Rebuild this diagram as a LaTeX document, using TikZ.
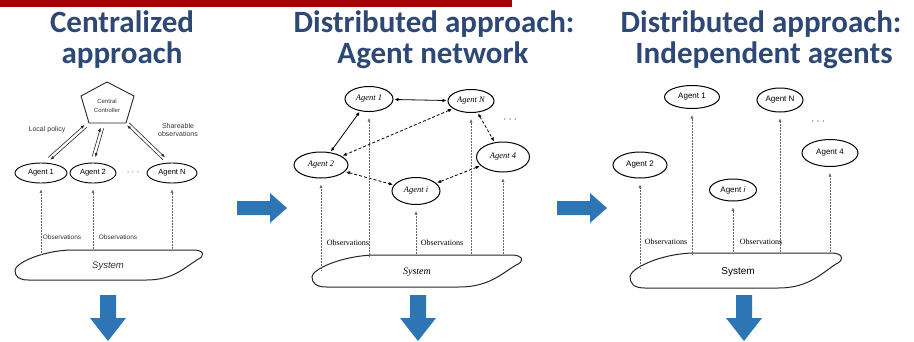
\documentclass[tikz,border=0pt]{standalone}
\usepackage{fontspec}
\setmainfont{Liberation Serif}
\setsansfont{Liberation Sans}
\newfontfamily\titlefont{Carlito}
\usetikzlibrary{shapes.geometric,arrows.meta,calc}

\definecolor{titleblue}{RGB}{46,72,118}
\definecolor{barred}{RGB}{168,0,0}
\definecolor{arrowblue}{RGB}{46,117,182}

% two parallel arrows between #1 and #2, one in each direction
\newcommand\duallink[2]{%
  \draw[dual,-{Latex[length=4pt,width=3pt]}] ($(#1)!1.6pt!90:(#2)$) -- ($(#2)!1.6pt!-90:(#1)$);
  \draw[dual,{Latex[length=4pt,width=3pt]}-] ($(#1)!1.6pt!-90:(#2)$) -- ($(#2)!1.6pt!90:(#1)$);}

% skewed rounded outline used for the "System" blocks
\newcommand\systemoutline[4]{%
  \begin{scope}[shift={(#1,#2)},xscale=#3,yscale=#4]
    \draw[sysline] (0,0.68) .. controls (0,0.45) and (0.14,0.02) .. (0.3,0)
      -- (0.95,0) .. controls (1.01,0) and (1.01,0.22) .. (0.97,0.32)
      .. controls (0.9,0.6) and (0.84,1) .. (0.7,1)
      -- (0.07,1) .. controls (0.02,1) and (0,0.88) .. (0,0.68) -- cycle;
  \end{scope}}

\begin{document}
\begin{tikzpicture}[x=1pt,y=-1pt,
  titletext/.style={text=titleblue,font=\titlefont\bfseries\fontsize{31}{32}\selectfont,anchor=base,inner sep=0},
  agentA/.style={draw,ellipse,line width=0.9pt,inner sep=0,font=\sffamily\fontsize{7.5}{8}\selectfont},
  agentB/.style={draw,ellipse,line width=1pt,inner sep=0,font=\itshape\fontsize{8.5}{9}\selectfont},
  agentC/.style={draw,ellipse,line width=1pt,inner sep=0,font=\sffamily\fontsize{8}{9}\selectfont},
  small/.style={inner sep=0,font=\sffamily\fontsize{6.5}{7.5}\selectfont,text=black!80,align=center},
  obslabel/.style={inner sep=0,font=\fontsize{8}{9}\selectfont},
  dual/.style={line width=0.6pt,black!85,shorten <=3pt,shorten >=6pt},
  peer/.style={line width=0.8pt,{Latex[length=4pt,width=3.5pt]}-{Latex[length=4pt,width=3.5pt]},shorten <=1pt,shorten >=1pt},
  peerdash/.style={peer,densely dashed},
  obs/.style={line width=0.5pt,black!60,densely dotted,-{Latex[length=3.5pt,width=3pt]},shorten >=6pt},
  sysline/.style={line width=1pt,black!85},
  bigarrow/.style={fill=arrowblue,draw=none}]

\useasboundingbox (0,0) rectangle (914,341);
\fill[barred] (0,0) rectangle (512,7);

% ---------- titles ----------
\node[titletext] (t1a) at (122,32) {Centralized};
\node[titletext] (t1b) at (122,63) {approach};
\node[titletext] (t2a) at (434,32) {Distributed approach:};
\node[titletext] (t2b) at (433,63) {Agent network};
\node[titletext] (t3a) at (761,32) {Distributed approach:};
\node[titletext] (t3b) at (764,63) {Independent agents};

% ---------- centralized ----------
\draw[line width=0.9pt,black!85] (107,82) -- (134,96) -- (126,123) -- (89,123) -- (81,96) -- cycle;
\node[small,font=\sffamily\fontsize{6}{9}\selectfont] (cc) at (107,106) {Central\\Controller};
\coordinate (cL) at (88,124);
\coordinate (cM) at (103,125);
\coordinate (cR) at (126,122);

\node[agentA,minimum width=52,minimum height=20] (p1a1) at (41,173) {Agent 1};
\node[agentA,minimum width=46,minimum height=20] (p1a2) at (93,173) {Agent 2};
\node[agentA,minimum width=50,minimum height=20] (p1aN) at (172,173) {Agent N};
\node[small,font=\sffamily\fontsize{8}{9}\selectfont] (p1dots) at (133,173) {· · ·};

\duallink{cL}{p1a1.70}
\duallink{cM}{p1a2.95}
\duallink{cR}{p1aN.110}

\node[small,font=\sffamily\fontsize{7}{8}\selectfont] (lp) at (47,130) {Local policy};
\node[small,font=\sffamily\fontsize{7}{8}\selectfont] (so) at (178,130) {Shareable\\observations};

\systemoutline{15}{250}{188}{30}
\node[font=\sffamily\itshape\fontsize{9.5}{10}\selectfont,text=black!80] (s1) at (108,266) {System};
\draw[obs] (p1a1.south |- 0,254) -- (p1a1.south);
\draw[obs] (p1a2.south |- 0,250) -- (p1a2.south);
\draw[obs] (p1aN.south |- 0,250) -- (p1aN.south);
\node[small] (o1a) at (62,237) {Observations};
\node[small] (o1b) at (118,237) {Observations};

% ---------- agent network ----------
\node[agentB,minimum width=48,minimum height=25] (b1) at (369,99) {Agent 1};
\node[agentB,minimum width=46,minimum height=23] (bN) at (471,101) {Agent N};
\node[agentB,minimum width=54,minimum height=26] (b2) at (321,165) {Agent 2};
\node[agentB,minimum width=53,minimum height=30] (b4) at (503,157) {Agent 4};
\node[agentB,minimum width=48,minimum height=27] (bi) at (416,191) {Agent \textit{i}};
\node[font=\fontsize{9}{9}\selectfont] (p2dots) at (510,121) {· · ·};

\draw[peer] (b1) -- (bN);
\draw[peer] (b1) -- (b2);
\draw[peerdash] (bN) -- (b2);
\draw[peerdash] (bN) -- (b4);
\draw[peerdash] (b2) -- (bi);
\draw[peerdash] (b4) -- (bi);

\systemoutline{312}{255}{210}{32}
\node[font=\itshape\fontsize{10}{10}\selectfont] (s2) at (417,272) {System};
\draw[obs] (b2.south |- 0,270) -- (b2.south);
\draw[obs] (b1.south |- 0,256) -- (b1.south);
\draw[obs] (bi.south |- 0,255) -- (bi.south);
\draw[obs] (bN.south |- 0,255) -- (bN.south);
\draw[obs] (b4.south |- 0,255) -- (b4.south);
\node[obslabel] (o2a) at (348,243) {Observations};
\node[obslabel] (o2b) at (442,243) {Observations};

% ---------- independent agents ----------
\node[agentC,minimum width=55,minimum height=23] (c1) at (692,97) {Agent 1};
\node[agentC,minimum width=46,minimum height=24] (cN) at (780,100) {Agent N};
\node[agentC,minimum width=54,minimum height=26] (c2) at (640,165) {Agent 2};
\node[agentC,minimum width=47,minimum height=22] (ci) at (733,190) {Agent \textit{i}};
\node[agentC,minimum width=56,minimum height=27] (c4) at (830,153) {Agent 4};
\node[font=\fontsize{9}{9}\selectfont] (p3dots) at (818,123) {· · ·};

\systemoutline{630}{253}{212}{35}
\node[font=\sffamily\fontsize{10}{10}\selectfont] (s3) at (738,272) {System};
\draw[obs] (c2.south |- 0,268) -- (c2.south);
\draw[obs] (c1.south |- 0,254) -- (c1.south);
\draw[obs] (ci.south |- 0,253) -- (ci.south);
\draw[obs] (cN.south |- 0,253) -- (cN.south);
\draw[obs] (c4.south |- 0,253) -- (c4.south);
\node[obslabel] (o3a) at (666,242) {Observations};
\node[obslabel] (o3b) at (761,242) {Observations};

% ---------- block arrows ----------
\fill[bigarrow] (237,201) -- (270,201) -- (270,193) -- (287,208) -- (270,223) -- (270,215) -- (237,215) -- cycle;
\fill[bigarrow] (557,201) -- (590,201) -- (590,193) -- (607,208) -- (590,223) -- (590,215) -- (557,215) -- cycle;
\foreach \cx in {108,418,744}{
  \fill[bigarrow] (\cx-8,295) -- (\cx+8,295) -- (\cx+8,318) -- (\cx+18,318) -- (\cx,341) -- (\cx-18,318) -- (\cx-8,318) -- cycle;
}
\end{tikzpicture}
\end{document}
